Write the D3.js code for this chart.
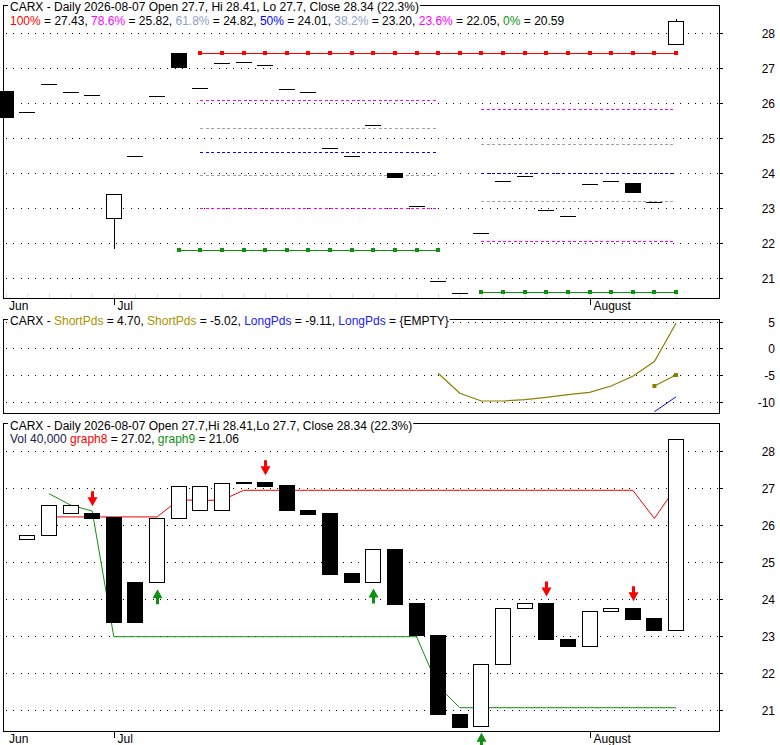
<!doctype html>
<html>
<head>
<meta charset="utf-8">
<script src="https://cdnjs.cloudflare.com/ajax/libs/d3/7.8.5/d3.min.js"></script>
<style>
  body, html { margin: 0; background: #fff; }
  svg { display: block; font-family: "Liberation Sans", Arial, sans-serif; font-size: 12px; }
  .frame { fill: none; stroke: #000; stroke-width: 1; shape-rendering: crispEdges; }
  .grid { stroke: #000; stroke-width: 1; stroke-dasharray: 1, 6.33; shape-rendering: crispEdges; }
  .candle { stroke: #000; stroke-width: 1; shape-rendering: crispEdges; }
</style>
</head>
<body>
<svg width="780" height="745"></svg>
<script>

// trading days shown
var days = ["2026-06-24","2026-06-25","2026-06-26","2026-06-29","2026-06-30",
  "2026-07-01","2026-07-02","2026-07-06","2026-07-07","2026-07-08","2026-07-09","2026-07-10",
  "2026-07-13","2026-07-14","2026-07-15","2026-07-16","2026-07-17",
  "2026-07-20","2026-07-21","2026-07-22","2026-07-23","2026-07-24",
  "2026-07-27","2026-07-28","2026-07-29","2026-07-30","2026-07-31",
  "2026-08-03","2026-08-04","2026-08-05","2026-08-06","2026-08-07"];

var monthLabels = ["Jun", "Jul", "August"];
var monthDays = [null, "2026-07-01", "2026-08-03"];

// top panel candles
var topOpen  = [26.35, 25.73, 26.53, 26.31, 26.22, 22.71, 24.49, 26.19, 27.43, 26.42, 27.14, 27.17, 27.08, 26.39, 26.31, 24.71,
                24.48, 25.37, 24.00, 23.05, 20.91, 20.56, 22.28, 23.77, 23.91, 22.93, 22.76, 23.69, 23.77, 23.71, 23.16, 27.68];
var topClose = [25.60, 25.73, 26.53, 26.31, 26.22, 23.40, 24.49, 26.19, 27.04, 26.42, 27.14, 27.17, 27.08, 26.39, 26.31, 24.71,
                24.48, 25.37, 23.89, 23.05, 20.91, 20.56, 22.28, 23.77, 23.91, 22.93, 22.76, 23.69, 23.77, 23.47, 23.16, 28.34];
var topHigh  = [26.35, 25.73, 26.53, 26.31, 26.22, 23.40, 24.49, 26.19, 27.43, 26.42, 27.14, 27.17, 27.08, 26.39, 26.31, 24.71,
                24.48, 25.37, 24.00, 23.05, 20.91, 20.56, 22.28, 23.77, 23.91, 22.93, 22.76, 23.69, 23.77, 23.71, 23.16, 28.41];
var topLow   = [25.60, 25.73, 26.53, 26.31, 26.22, 21.82, 24.49, 26.19, 27.04, 26.42, 27.14, 27.17, 27.08, 26.39, 26.31, 24.71,
                24.48, 25.37, 23.89, 23.05, 20.91, 20.56, 22.28, 23.77, 23.91, 22.93, 22.76, 23.69, 23.77, 23.47, 23.16, 27.68];

// fibonacci retracements
var fibLabels = ["100%", "78.6%", "61.8%", "50%", "38.2%", "23.6%", "0%"];
var fibLevels1 = [27.43, 26.09, 25.28, 24.61, 23.93, 23.00, 21.79];
var fibLevels2 = [27.43, 25.82, 24.82, 24.01, 23.20, 22.05, 20.59];
var fibStart = [9, 22], fibZeroStart = [8, 22], fibEnd = [20, 31];

// middle panel
var shortPds1 = [null, null, null, null, null, null, null, null, null, null, null, null, null, null, null, null, null, null, null, null,
                 -4.69, -8.44, -9.89, -9.89, -9.64, -9.20, -8.70, -8.26, -7.07, -5.26, -2.50, 4.70];
var shortPds2 = [null, null, null, null, null, null, null, null, null, null, null, null, null, null, null, null, null, null, null, null,
                 null, null, null, null, null, null, null, null, null, null, -7.07, -5.02];
var longPds   = [null, null, null, null, null, null, null, null, null, null, null, null, null, null, null, null, null, null, null, null,
                 null, null, null, null, null, null, null, null, null, null, -11.9, -9.11];

// bottom panel candles
var botOpen  = [null, 25.61, 25.72, 26.32, 26.32, 26.22, 24.46, 24.45, 26.18, 26.40, 26.40, 27.16, 27.16, 27.08, 26.41, 26.32,
                24.70, 24.47, 25.35, 23.88, 23.02, 20.88, 20.57, 22.24, 23.75, 23.88, 22.93, 22.74, 23.67, 23.75, 23.48, 23.15];
var botClose = [null, 25.72, 26.53, 26.53, 26.20, 23.39, 23.39, 26.18, 27.05, 27.05, 27.14, 27.13, 27.06, 26.40, 26.30, 24.68,
                24.47, 25.35, 23.87, 23.02, 20.88, 20.55, 22.24, 23.75, 23.88, 22.91, 22.74, 23.68, 23.75, 23.47, 23.15, 28.32];
var graph8 = [null, null, 26.22, 26.22, 26.22, 26.22, 26.22, 26.22, 26.68, 26.67, 26.67, 26.94, 26.94, 26.94, 26.94, 26.94,
              26.94, 26.94, 26.94, 26.94, 26.94, 26.94, 26.94, 26.94, 26.94, 26.94, 26.94, 26.94, 26.94, 26.94, 26.18, 27.02];
var graph9 = [null, null, 26.85, 26.54, 26.38, 22.98, 22.98, 22.98, 22.98, 22.98, 22.98, 22.98, 22.98, 22.98, 22.98, 22.98,
              22.98, 22.98, 22.98, 22.98, 21.64, 21.06, 21.06, 21.06, 21.06, 21.06, 21.06, 21.06, 21.06, 21.06, 21.06, 21.06];
var sellSignals = ["2026-06-30", "2026-07-13", "2026-07-30", "2026-08-05"];
var buySignals = ["2026-07-06", "2026-07-20", "2026-07-27"];

var quote = { date: "2026-08-07", open: 27.7, high: 28.41, low: 27.7, close: 28.34, change: 22.3, volume: 40000 };

var topTicks = [21, 22, 23, 24, 25, 26, 27, 28];
var midTicks = [-10, -5, 0, 5];
var botTicks = [21, 22, 23, 24, 25, 26, 27, 28];

// ---------------------------------------------------------------
var svg = d3.select("svg");
var left = 3, right = 719;
var fibColors = ["#ff0000", "#ff00ff", "#a0a0a0", "#0000ff", "#a0a0a0", "#ff00ff", "#109010"];
var fibTextColors = ["#ff0000", "#ff00ff", "#8ca0c8", "#0000ff", "#8ca0c8", "#ff00ff", "#109010"];
var olive = "#8a8000";

var x = d3.scalePoint().domain(days).range([5.7, 676]);

var yTop = d3.scaleLinear().domain([20.43, 28.8]).range([298, 5]);
var yMid = d3.scaleLinear().domain([-12.14, 5.49]).range([413, 319]);
var yBot = d3.scaleLinear().domain([20.43, 28.76]).range([731, 423]);

function drawGrid(g, y, ticks, fmt) {
  ticks.forEach(function (t) {
    var yy = Math.round(y(t)) + 0.5;
    g.append("line").attr("class", "grid")
      .attr("x1", 6).attr("x2", 724).attr("y1", yy).attr("y2", yy);
    g.append("line").attr("stroke", "#000").attr("shape-rendering", "crispEdges")
      .attr("x1", right).attr("x2", right + 4).attr("y1", yy).attr("y2", yy);
    g.append("text").attr("x", 775).attr("y", yy).attr("dy", "0.36em")
      .attr("text-anchor", "end").text(fmt ? fmt(t) : t);
  });
}

function drawFrame(g, y) {
  var r = y.range();
  g.append("rect").attr("class", "frame")
    .attr("x", left).attr("y", r[1]).attr("width", right - left).attr("height", r[0] - r[1]);
}

function drawTitle(g, yBase, parts) {
  var bg = g.append("rect").attr("fill", "#fff");
  var t = g.append("text").attr("x", 10).attr("y", yBase);
  parts.forEach(function (p) {
    t.append("tspan").attr("fill", p[1] || "#000").text(p[0]);
  });
  var b = t.node().getBBox();
  bg.attr("x", b.x - 2).attr("width", b.width + 3).attr("y", b.y + 1).attr("height", b.height - 2);
  return t;
}

function drawMonths(g, yBottom, yLabel) {
  monthLabels.forEach(function (m, i) {
    var d = monthDays[i];
    if (d == null) {
      g.append("text").attr("x", 9).attr("y", yLabel).text(m);
    } else {
      var xx = Math.round(x(d)) + 0.5;
      g.append("line").attr("stroke", "#000").attr("shape-rendering", "crispEdges")
        .attr("x1", xx).attr("x2", xx).attr("y1", yBottom).attr("y2", yBottom + 7);
      g.append("text").attr("x", xx + 3).attr("y", yLabel).text(m);
    }
  });
}

function drawCandles(g, y, open, close, high, low) {
  days.forEach(function (d, i) {
    if (open[i] == null) return;
    var cx = Math.round(x(d));
    var o = open[i], c = close[i];
    if (high && low && (high[i] > Math.max(o, c) || low[i] < Math.min(o, c))) {
      g.append("line").attr("class", "candle")
        .attr("x1", cx + 0.5).attr("x2", cx + 0.5)
        .attr("y1", y(high[i])).attr("y2", y(low[i]));
    }
    var y0 = Math.round(y(Math.max(o, c))), y1 = Math.round(y(Math.min(o, c)));
    if (y1 - y0 < 1) {
      g.append("line").attr("class", "candle")
        .attr("x1", cx - 8).attr("x2", cx + 8)
        .attr("y1", y0 + 0.5).attr("y2", y0 + 0.5);
    } else {
      g.append("rect").attr("class", "candle")
        .attr("x", cx - 7.5).attr("width", 15)
        .attr("y", y0 + 0.5).attr("height", y1 - y0)
        .attr("fill", c < o ? "#000" : "#fff");
    }
  });
}

// ---------------- top panel ----------------
var gTop = svg.append("g");
drawGrid(gTop, yTop, topTicks);
// faint day ticks
days.forEach(function (d) {
  gTop.append("line").attr("stroke", "#dcdcdc").attr("shape-rendering", "crispEdges")
    .attr("x1", Math.round(x(d)) + 0.5).attr("x2", Math.round(x(d)) + 0.5)
    .attr("y1", 294).attr("y2", 298);
});
drawFrame(gTop, yTop);

// fib lines
var fibSegs = [fibLevels1, fibLevels2];
fibLabels.forEach(function (lab, j) {
  var solid = (j === 0 || j === fibLabels.length - 1);
  var runs = [];
  fibSegs.forEach(function (lv, s) {
    var st = (j === fibLabels.length - 1) ? fibZeroStart[s] : fibStart[s];
    var last = runs[runs.length - 1];
    if (solid && last && last.v === lv[j]) last.end = fibEnd[s];
    else runs.push({ v: lv[j], start: st, end: fibEnd[s] });
  });
  runs.forEach(function (r) {
    var yy = Math.round(yTop(r.v)) + 0.5;
    gTop.append("line")
      .attr("x1", x(days[r.start])).attr("x2", x(days[r.end]))
      .attr("y1", yy).attr("y2", yy)
      .attr("stroke", fibColors[j])
      .attr("stroke-width", solid ? 1.4 : 1)
      .attr("stroke-dasharray", solid ? null : "3,2.4")
      .attr("shape-rendering", "crispEdges");
    if (solid) {
      d3.range(r.start, r.end + 1).forEach(function (k) {
        gTop.append("rect").attr("fill", fibColors[j])
          .attr("x", Math.round(x(days[k])) - 2).attr("y", yy - 2.5)
          .attr("width", 4).attr("height", 4);
      });
    }
  });
});

drawCandles(gTop, yTop, topOpen, topClose, topHigh, topLow);

drawTitle(gTop, 11, [["CARX - Daily " + quote.date + " Open " + quote.open + ", Hi " + quote.high +
  ", Lo " + quote.low + ", Close " + quote.close + " (" + quote.change + "%)"]]);
var fibParts = [];
fibLabels.forEach(function (lab, j) {
  fibParts.push([lab, fibTextColors[j]]);
  fibParts.push([" = " + fibLevels2[j].toFixed(2) + (j < fibLabels.length - 1 ? ", " : "")]);
});
drawTitle(gTop, 25, fibParts);
drawMonths(gTop, 298, 310);

// ---------------- middle panel ----------------
var gMid = svg.append("g");
drawGrid(gMid, yMid, midTicks);
drawFrame(gMid, yMid);
svg.append("clipPath").attr("id", "midclip").append("rect")
  .attr("x", left + 1).attr("y", 320).attr("width", right - left - 1).attr("height", 92);
var gMidLines = gMid.append("g").attr("clip-path", "url(#midclip)");
var lineMid = d3.line()
  .defined(function (d) { return d != null; })
  .x(function (d, i) { return x(days[i]); })
  .y(function (d) { return yMid(d); });
gMidLines.append("path").attr("d", lineMid(shortPds1)).attr("fill", "none")
  .attr("stroke", olive).attr("stroke-width", 1.2);
gMidLines.append("path").attr("d", lineMid(shortPds2)).attr("fill", "none")
  .attr("stroke", olive).attr("stroke-width", 1.2);
shortPds2.forEach(function (v, i) {
  if (v == null) return;
  gMidLines.append("rect").attr("fill", olive)
    .attr("x", x(days[i]) - 2).attr("y", yMid(v) - 2).attr("width", 4).attr("height", 4);
});
gMidLines.append("path").attr("d", lineMid(longPds)).attr("fill", "none")
  .attr("stroke", "#0000ff").attr("stroke-width", 1);

var lastDef = function (a) { return a.filter(function (v) { return v != null; }).pop(); };
drawTitle(gMid, 324.5, [["CARX - "], ["ShortPds", "#a89400"], [" = " + lastDef(shortPds1).toFixed(2) + ", "],
  ["ShortPds", "#a89400"], [" = " + lastDef(shortPds2).toFixed(2) + ", "],
  ["LongPds", "#2020ff"], [" = " + lastDef(longPds).toFixed(2) + ", "],
  ["LongPds", "#2020ff"], [" = {EMPTY}"]]);

// ---------------- bottom panel ----------------
var gBot = svg.append("g");
drawGrid(gBot, yBot, botTicks);
drawFrame(gBot, yBot);

var lineBot = d3.line()
  .defined(function (d) { return d != null; })
  .x(function (d, i) { return x(days[i]); })
  .y(function (d) { return yBot(d); });
gBot.append("path").attr("d", lineBot(graph8)).attr("fill", "none")
  .attr("stroke", "#ee0000").attr("stroke-width", 1);
gBot.append("path").attr("d", lineBot(graph9)).attr("fill", "none")
  .attr("stroke", "#109010").attr("stroke-width", 1);

drawCandles(gBot, yBot, botOpen, botClose);

function arrow(g, cx, tip, dir, color) {
  // dir = 1 points down, -1 points up
  var p = d3.path();
  p.moveTo(cx, tip);
  p.lineTo(cx - 5, tip - dir * 9);
  p.lineTo(cx - 1.5, tip - dir * 9);
  p.lineTo(cx - 1.5, tip - dir * 15);
  p.lineTo(cx + 1.5, tip - dir * 15);
  p.lineTo(cx + 1.5, tip - dir * 9);
  p.lineTo(cx + 5, tip - dir * 9);
  p.closePath();
  g.append("path").attr("d", p.toString()).attr("fill", color);
}
sellSignals.forEach(function (d) {
  var i = days.indexOf(d);
  arrow(gBot, Math.round(x(d)) + 0.5, yBot(Math.max(botOpen[i], botClose[i])) - 7, 1, "#ff0000");
});
buySignals.forEach(function (d) {
  var i = days.indexOf(d);
  arrow(gBot, Math.round(x(d)) + 0.5, yBot(Math.min(botOpen[i], botClose[i])) + 7, -1, "#109010");
});

drawTitle(gBot, 429.5, [["CARX - Daily " + quote.date + " Open " + quote.open + ",Hi " + quote.high +
  ",Lo " + quote.low + ", Close " + quote.close + " (" + quote.change + "%)"]]);
drawTitle(gBot, 442.5, [["Vol " + d3.format(",")(quote.volume) + " ", "#202050"],
  ["graph8", "#ff0000"], [" = " + lastDef(graph8).toFixed(2) + ", "],
  ["graph9", "#109010"], [" = " + lastDef(graph9).toFixed(2)]]);
drawMonths(gBot, 731, 743);

</script>
</body>
</html>
